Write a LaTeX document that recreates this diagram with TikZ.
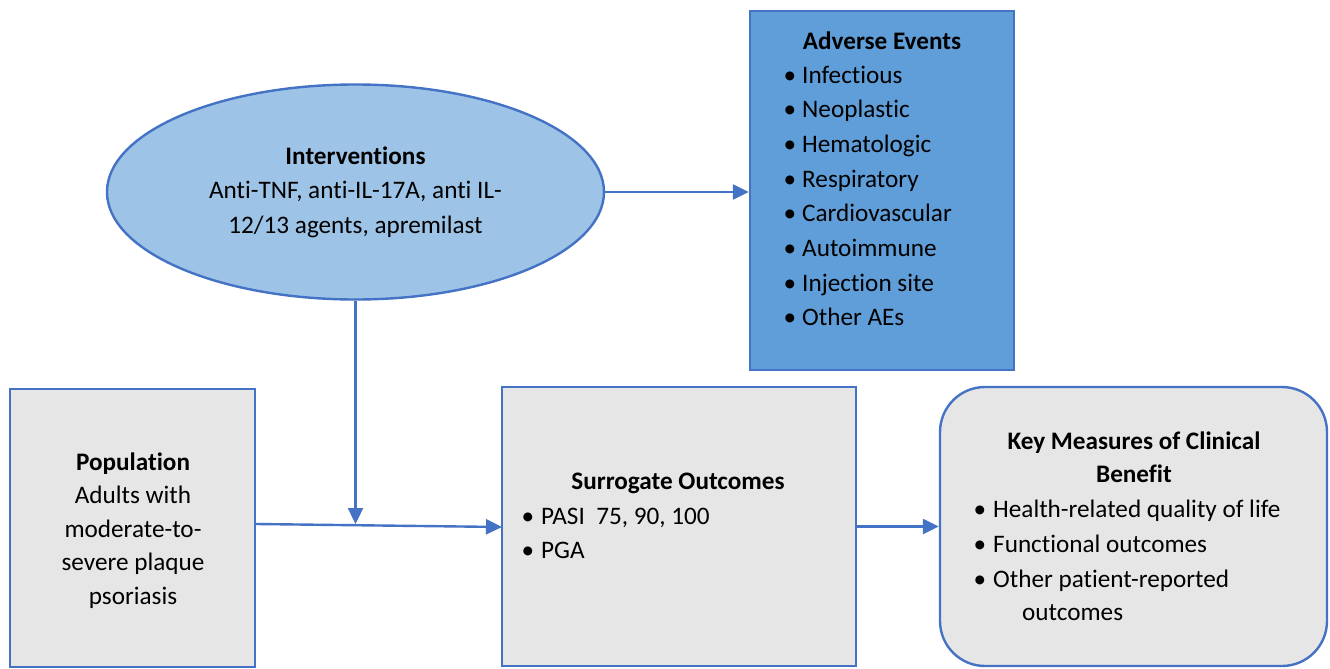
\documentclass[tikz,border=0pt]{standalone}
\usepackage{fontspec}
\setmainfont{Carlito}[Ligatures=NoCommon]
\usetikzlibrary{shapes.geometric,arrows.meta}
\definecolor{bord}{HTML}{4472C4}
\definecolor{ellfill}{HTML}{9DC3E6}
\definecolor{aefill}{HTML}{5F9ED8}
\definecolor{grayfill}{HTML}{E7E6E6}
\tikzset{
  every node/.style={font=\fontsize{25.2}{34.6}\selectfont},
  shapebox/.style={draw=bord, line width=2.4pt, inner sep=0pt},
  graybox/.style={shapebox, rectangle, fill=grayfill},
  txt/.style={inner sep=0pt, anchor=base},
  itm/.style={inner sep=0pt, anchor=base west},
  bul/.style={inner sep=0pt, anchor=base},
  arr/.style={draw=bord, line width=2.4pt, -{Triangle[length=16pt,width=15pt]}},
  conn/.style={draw=bord, line width=2.4pt}
}
\begin{document}
\begin{tikzpicture}[x=1pt,y=-1pt]
\useasboundingbox (0,0) rectangle (1330,669);
% shapes
\node[shapebox, ellipse, fill=ellfill, minimum width=497pt, minimum height=215pt, align=center] (int) at (355.5,192)
  {\textbf{Interventions}\\Anti-TNF, anti-IL-17A, anti IL-\\12/13 agents, apremilast};
\node[shapebox, rectangle, fill=aefill, minimum width=264pt, minimum height=359pt] (ae) at (882,190.5) {};
\node[graybox, minimum width=245pt, minimum height=278pt] (pop) at (132.5,528) {};
\node[graybox, minimum width=354pt, minimum height=279pt] (surr) at (679,526.5) {};
\node[graybox, rounded corners=45pt, minimum width=387pt, minimum height=279pt] (key) at (1133.5,526.5) {};
% Adverse events text
\node[txt] (aet) at (882,49) {\textbf{Adverse Events}};
\foreach \t [count=\i] in {Infectious,Neoplastic,Hematologic,Respiratory,Cardiovascular,Autoimmune,Injection site,Other AEs}{
  \node[bul] (aeb\i) at (790,{83+34.7*(\i-1)}) {•};
  \node[itm] (aei\i) at (802,{83+34.7*(\i-1)}) {\t};
}
% Population text
\node[txt] (pop1) at (133,470) {\textbf{Population}};
\node[txt] (pop2) at (133,503.5) {Adults with};
\node[txt] (pop3) at (133,537) {moderate-to-};
\node[txt] (pop4) at (133,570.5) {severe plaque};
\node[txt] (pop5) at (133,604) {psoriasis};
% Surrogate text
\node[txt] (sur1) at (678,489) {\textbf{Surrogate Outcomes}};
\node[bul] (surb1) at (528,524) {•};
\node[itm] (suri1) at (541,524) {PASI\ \ 75, 90, 100};
\node[bul] (surb2) at (528,558.5) {•};
\node[itm] (suri2) at (541,558.5) {PGA};
% Key measures text
\node[txt] (key1) at (1134,449) {\textbf{Key Measures of Clinical}};
\node[txt] (key2) at (1134,482) {\textbf{Benefit}};
\node[bul] (keyb1) at (980,517) {•};
\node[itm] (keyi1) at (993,517) {Health-related quality of life};
\node[bul] (keyb2) at (980,552) {•};
\node[itm] (keyi2) at (993,552) {Functional outcomes};
\node[bul] (keyb3) at (980,587) {•};
\node[itm] (keyi3) at (993,587) {Other patient-reported};
\node[itm] (keyi4) at (1022,620) {outcomes};
% connectors
\coordinate (j) at (355.5,524);
\coordinate (sin) at (502,527);
\draw[arr] (int.east) -- (ae.west |- int.east);
\draw[arr] (int.south) -- (j);
\draw[arr] (pop.east |- j) -- (sin);
\draw[arr] (surr.east) -- (key.west);
\end{tikzpicture}
\end{document}
